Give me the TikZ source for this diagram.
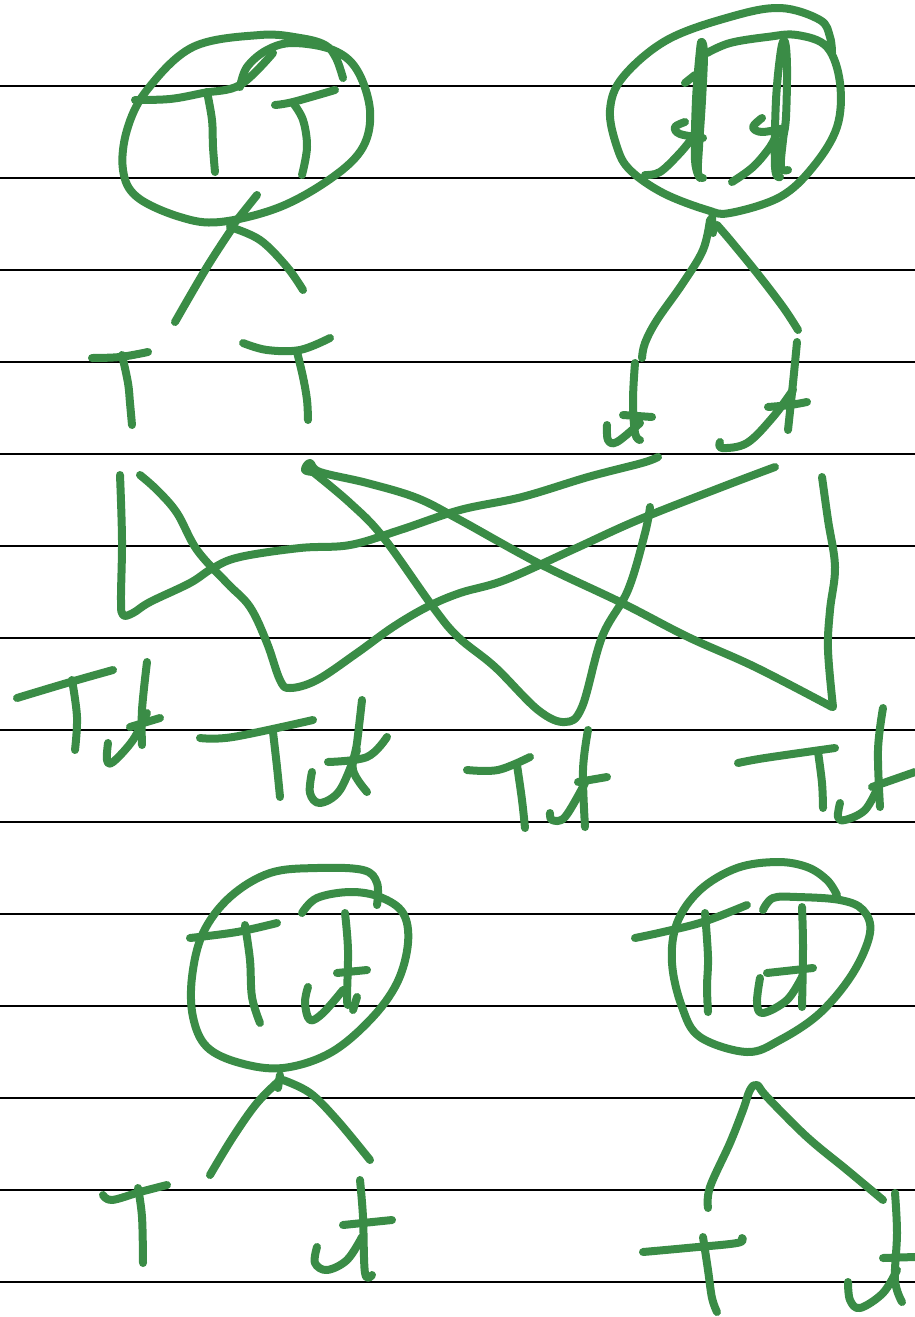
\documentclass[tikz,border=0pt]{standalone}
\usepackage{xcolor}
\usepackage{tikz}
\definecolor{pen}{RGB}{58,140,70}

\begin{document}
\begin{tikzpicture}[x=0.5pt, y=-0.5pt,
        rule/.style={draw=black, line width=1pt},
        ink/.style={draw=pen, line width=4pt, line cap=round, line join=round},
        sm/.style={smooth, tension=0.6}]
      \useasboundingbox (0,0) rectangle (915,1317);

      % ruled paper
      \foreach \k in {0,...,13} {
        \draw[rule] (0,86+92*\k) -- (915,86+92*\k);
      }

      % top left tree
      \draw[ink] plot[sm] coordinates {(343,78) (336,58) (325,45) (300,38) (260,35) (193,47) (147,90) (127,130) (123,170) (137,197) (180,217) (220,222) (280,207) (333,177) (363,147) (370,110) (357,70) (333,50) (293,43) (267,50) (247,67) (240,87)};
      \draw[ink] plot[sm] coordinates {(135,100) (170,99) (203,93) (240,85) (273,53)};
      \draw[ink] plot[sm] coordinates {(207,92) (212,120) (213,147) (215,172)};
      \draw[ink] plot[sm] coordinates {(275,105) (293,102) (335,90)};
      \draw[ink] plot[sm] coordinates {(293,103) (303,120) (307,147) (302,175)};
      \draw[ink] (257,195) -- (233,225);
      \draw[ink] plot[sm] coordinates {(233,227) (207,267) (175,322)};
      \draw[ink] plot[sm] coordinates {(230,227) (260,240) (287,267) (303,290)};
      \draw[ink] plot[sm] coordinates {(92,358) (120,357) (148,352)};
      \draw[ink] plot[sm] coordinates {(122,355) (128,383) (130,403) (132,425)};
      \draw[ink] plot[sm] coordinates {(243,343) (267,350) (300,350) (330,338)};
      \draw[ink] plot[sm] coordinates {(297,352) (303,377) (307,400) (308,420)};

      % top right tree
      \draw[ink] plot[sm] coordinates {(707,53) (730,43) (767,37) (797,35) (827,47) (840,83) (837,127) (813,167) (780,197) (730,213) (707,210) (663,193) (630,170) (617,147) (610,110) (623,77) (667,40) (730,17) (780,8) (820,20) (830,37) (832,53)};
      \draw[ink] plot[sm] coordinates {(700,178) (695,160) (696,100) (700,50) (702,42) (704,55) (702,100) (699,147) (698,173) (703,178)};
      \draw[ink] plot[sm] coordinates {(645,175) (660,172) (680,153) (693,137)};
      \draw[ink] plot[sm] coordinates {(685,122) (675,127) (680,134) (703,138)};
      \draw[ink] (685,83) -- (695,75);
      \draw[ink] plot[sm] coordinates {(780,177) (775,167) (776,100) (781,50) (785,42) (787,67) (786,117) (783,140) (781,167) (788,170)};
      \draw[ink] plot[sm] coordinates {(732,182) (753,167) (770,147) (777,133)};
      \draw[ink] plot[sm] coordinates {(762,118) (753,127) (762,132) (785,128)};
      \draw[ink] (712,217) -- (713,233);
      \draw[ink] plot[sm] coordinates {(710,220) (703,250) (683,283) (657,320) (645,343) (642,358)};
      \draw[ink] plot[sm] coordinates {(717,225) (730,240) (757,273) (783,307) (798,330)};
      \draw[ink] plot[sm] coordinates {(635,363) (633,400) (635,433) (640,440)};
      \draw[ink] plot[sm] coordinates {(607,425) (608,440) (617,442) (640,423)};
      \draw[ink] (623,415) -- (652,417);
      \draw[ink] plot[sm] coordinates {(797,342) (793,383) (788,430)};
      \draw[ink] plot[sm] coordinates {(720,442) (722,448) (747,443) (773,417) (793,390)};
      \draw[ink] plot[sm] coordinates {(768,407) (790,405) (807,402)};

      % crossing lines
      \draw[ink] plot[sm] coordinates {(120,475) (122,540) (121,600) (123,615) (133,613) (150,602) (190,583) (213,568) (240,557) (300,548) (350,545) (400,530) (460,510) (522,497) (588,477) (642,463) (658,457)};
      \draw[ink] plot[sm] coordinates {(140,475) (157,490) (177,513) (197,550) (227,583) (250,607) (267,643) (280,680) (290,688) (317,680) (357,653) (393,627) (427,607) (460,593) (505,580) (572,550) (638,520) (722,487) (775,467)};
      \draw[ink] plot[sm] coordinates {(313,472) (305,470) (310,463) (320,472) (367,483) (417,498) (460,520) (538,563) (622,603) (688,637) (755,667) (832,707)};
      \draw[ink] plot[sm] coordinates {(822,477) (828,520) (835,567) (830,610) (828,650) (833,707)};
      \draw[ink] plot[sm] coordinates {(313,472) (350,503) (383,537) (433,607) (458,637) (495,667) (538,710) (565,722) (582,707) (602,637) (628,590) (645,533) (650,507)};

      % bottom row of pairs
      \draw[ink] plot[sm] coordinates {(17,698) (67,683) (113,670)};
      \draw[ink] plot[sm] coordinates {(72,680) (77,717) (75,750)};
      \draw[ink] plot[sm] coordinates {(147,662) (142,710) (142,745)};
      \draw[ink] plot[sm] coordinates {(108,743) (107,760) (113,762) (133,740) (147,713)};
      \draw[ink] (130,727) -- (160,718);

      \draw[ink] plot[sm] coordinates {(200,738) (233,737) (313,720)};
      \draw[ink] plot[sm] coordinates {(273,732) (277,767) (280,797)};
      \draw[ink] plot[sm] coordinates {(362,700) (357,743) (353,770) (367,792)};
      \draw[ink] plot[sm] coordinates {(312,772) (310,793) (320,803) (340,790) (357,750)};
      \draw[ink] plot[sm] coordinates {(328,762) (367,757) (387,737)};

      \draw[ink] plot[sm] coordinates {(467,770) (498,770) (530,757)};
      \draw[ink] plot[sm] coordinates {(517,765) (522,800) (525,828)};
      \draw[ink] plot[sm] coordinates {(588,730) (583,770) (585,827)};
      \draw[ink] plot[sm] coordinates {(550,813) (552,820) (565,817) (585,783)};
      \draw[ink] (578,782) -- (607,777);

      \draw[ink] plot[sm] coordinates {(738,763) (765,758) (835,748)};
      \draw[ink] plot[sm] coordinates {(818,752) (822,783) (823,808)};
      \draw[ink] plot[sm] coordinates {(883,708) (878,750) (880,807)};
      \draw[ink] plot[sm] coordinates {(840,803) (838,817) (845,820) (865,810) (878,787)};
      \draw[ink] (872,787) -- (915,772);

      % bottom left tree
      \draw[ink] plot[sm] coordinates {(302,913) (317,898) (350,892) (380,897) (403,913) (408,943) (397,983) (370,1020) (330,1053) (283,1068) (240,1063) (207,1047) (193,1017) (192,977) (203,933) (230,897) (270,873) (317,868) (363,870) (377,883) (377,905)};
      \draw[ink] plot[sm] coordinates {(190,938) (237,932) (277,923)};
      \draw[ink] plot[sm] coordinates {(245,925) (250,960) (252,997) (260,1023)};
      \draw[ink] plot[sm] coordinates {(345,913) (348,950) (347,997) (348,1005)};
      \draw[ink] plot[sm] coordinates {(308,987) (305,1003) (310,1020) (323,1013) (343,990)};
      \draw[ink] (337,973) -- (367,970);
      \draw[ink] (357,997) -- (353,1010);
      \draw[ink] (280,1075) -- (278,1088);
      \draw[ink] plot[sm] coordinates {(280,1080) (257,1103) (233,1137) (210,1175)};
      \draw[ink] plot[sm] coordinates {(283,1080) (310,1093) (337,1120) (370,1160)};
      \draw[ink] plot[sm] coordinates {(103,1195) (112,1200) (140,1192) (167,1185)};
      \draw[ink] plot[sm] coordinates {(138,1188) (142,1217) (143,1263)};
      \draw[ink] plot[sm] coordinates {(360,1180) (363,1217) (365,1273) (372,1275)};
      \draw[ink] plot[sm] coordinates {(317,1247) (315,1263) (327,1270) (347,1260) (362,1237)};
      \draw[ink] (343,1225) -- (392,1220);

      % bottom right tree
      \draw[ink] plot[sm] coordinates {(837,895) (827,880) (807,867) (777,862) (737,868) (700,890) (677,923) (672,963) (682,1007) (700,1037) (747,1052) (780,1040) (820,1013) (853,973) (870,933) (863,910) (840,900) (797,897) (773,898) (763,910)};
      \draw[ink] plot[sm] coordinates {(635,938) (663,932) (703,922) (747,905)};
      \draw[ink] plot[sm] coordinates {(705,913) (708,957) (707,987) (708,1012)};
      \draw[ink] plot[sm] coordinates {(802,907) (803,947) (802,1007)};
      \draw[ink] plot[sm] coordinates {(760,978) (757,1003) (763,1013) (787,1000) (802,977)};
      \draw[ink] (767,973) -- (813,968);
      \draw[ink] plot[sm] coordinates {(708,1208) (710,1187) (730,1143) (743,1110) (750,1090) (757,1085) (767,1097) (807,1137) (847,1170) (883,1200)};
      \draw[ink] plot[sm] coordinates {(643,1252) (687,1248) (737,1243) (742,1238)};
      \draw[ink] plot[sm] coordinates {(703,1237) (708,1270) (712,1298) (717,1312)};
      \draw[ink] plot[sm] coordinates {(895,1193) (897,1233) (895,1280) (902,1302)};
      \draw[ink] plot[sm] coordinates {(848,1282) (850,1300) (860,1308) (883,1293) (897,1270)};
      \draw[ink] (883,1258) -- (915,1257);
    \end{tikzpicture}
\end{document}
